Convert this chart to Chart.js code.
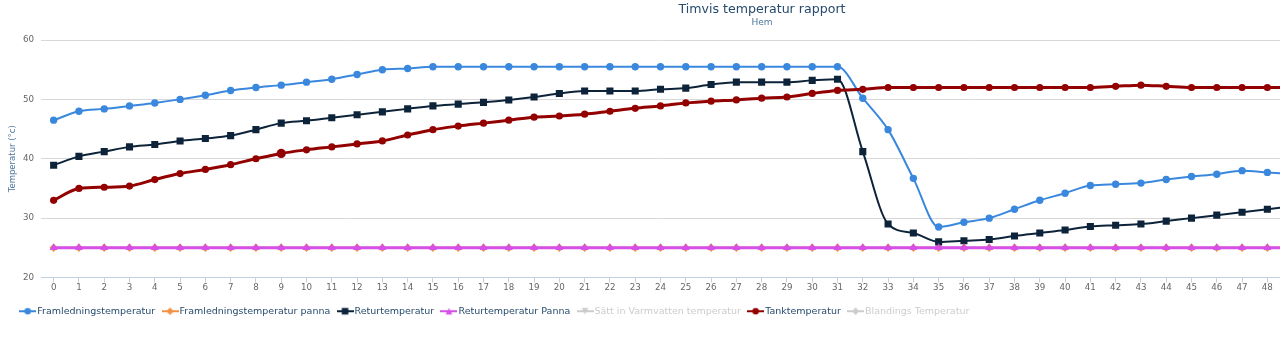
<!DOCTYPE html>
<html>
<head>
<meta charset="utf-8">
<script src="https://cdn.jsdelivr.net/npm/chart.js@4.4.1/dist/chart.umd.min.js"></script>
<style>
  html, body { margin: 0; padding: 0; background: #ffffff; }
  #wrap { position: relative; width: 1280px; height: 338px; }
</style>
</head>
<body>
<div id="wrap"><canvas id="c"></canvas></div>
<script>
// ---- data ----
const hours = [0,1,2,3,4,5,6,7,8,9,10,11,12,13,14,15,16,17,18,19,20,21,22,23,24,25,26,27,28,29,30,31,32,33,34,35,36,37,38,39,40,41,42,43,44,45,46,47,48,49];
const tickLabels = [0,1,2,3,4,5,6,7,8,9,10,11,12,13,14,15,16,17,18,19,20,21,22,23,24,25,26,27,28,29,30,31,32,33,34,35,36,37,38,39,40,41,42,43,44,45,46,47,48];
const yTicks = [20,30,40,50,60];

const seriesNames = ['Framledningstemperatur','Framledningstemperatur panna','Returtemperatur','Returtemperatur Panna','Sätt in Varmvatten temperatur','Tanktemperatur','Blandings Temperatur'];

const framledning = [46.5,48.0,48.4,48.9,49.4,50.0,50.7,51.5,52.0,52.4,52.9,53.4,54.2,55.0,55.2,55.5,
  55.5,55.5,55.5,55.5,55.5,55.5,55.5,55.5,55.5,55.5,55.5,55.5,55.5,55.5,55.5,55.5,
  50.2,44.9,36.7,28.5,29.3,30.0,31.5,33.0,34.2,35.5,35.7,35.9,36.5,37.0,37.4,38.0,37.7,37.4];
const framledningPanna = [25,25,25,25,25,25,25,25,25,25,25,25,25,25,25,25,25,25,25,25,25,25,25,25,25,25,25,25,25,25,25,25,25,25,25,25,25,25,25,25,25,25,25,25,25,25,25,25,25,25];
const retur = [38.9,40.4,41.2,42.0,42.4,43.0,43.4,43.9,44.9,46.0,46.4,46.9,47.4,47.9,48.4,48.9,
  49.2,49.5,49.9,50.4,51.0,51.4,51.4,51.4,51.7,51.9,52.5,52.9,52.9,52.9,53.2,53.4,
  41.2,29.0,27.5,26.0,26.2,26.4,27.0,27.5,28.0,28.6,28.8,29.0,29.5,30.0,30.5,31.0,31.5,32.0];
const returPanna = [25,25,25,25,25,25,25,25,25,25,25,25,25,25,25,25,25,25,25,25,25,25,25,25,25,25,25,25,25,25,25,25,25,25,25,25,25,25,25,25,25,25,25,25,25,25,25,25,25,25];
const varmvatten = [];
const tank = [33.0,35.0,35.2,35.4,36.5,37.5,38.2,39.0,40.0,40.9,41.5,42.0,42.5,43.0,44.0,44.9,
  45.5,46.0,46.5,47.0,47.2,47.5,48.0,48.5,48.9,49.4,49.7,49.9,50.2,50.4,51.0,51.5,
  51.7,52.0,52.0,52.0,52.0,52.0,52.0,52.0,52.0,52.0,52.2,52.4,52.2,52.0,52.0,52.0,52.0,52.0];
const blandning = [];

// ---- styles ----
const FONT = "'DejaVu Sans', sans-serif";
const styles = [
  { color: '#3a88de', marker: 'circle',   r: 3.7, lw: 2,   visible: true },
  { color: '#f28f43', marker: 'rectRot',  r: 4.2, lw: 2,   visible: true },
  { color: '#0d233a', marker: 'rect',     r: 5.0, lw: 2,   visible: true },
  { color: '#d54fe8', marker: 'triangle', r: 4.6, lw: 3,   visible: true },
  { color: '#cccccc', marker: 'triangle', r: 4.6, lw: 2,   visible: false, rot: 180 },
  { color: '#930000', marker: 'circle',   r: 3.6, lw: 3,   visible: true },
  { color: '#cccccc', marker: 'rectRot',  r: 4.2, lw: 2,   visible: false }
];
const seriesData = [framledning, framledningPanna, retur, returPanna, varmvatten, tank, blandning];

function legendIcon(st) {
  const c = document.createElement('canvas');
  c.width = 17; c.height = 10;
  const g = c.getContext('2d');
  const col = st.visible ? st.color : '#cccccc';
  g.strokeStyle = col; g.fillStyle = col;
  g.lineWidth = 2;
  g.beginPath(); g.moveTo(0, 5); g.lineTo(17, 5); g.stroke();
  const cx = 8.5, cy = 5, r = 3.3;
  g.beginPath();
  if (st.marker === 'circle') { g.arc(cx, cy, r, 0, Math.PI * 2); }
  else if (st.marker === 'rect') { g.rect(cx - r, cy - r, 2 * r, 2 * r); }
  else if (st.marker === 'rectRot') { g.moveTo(cx, cy - r - 0.5); g.lineTo(cx + r + 0.5, cy); g.lineTo(cx, cy + r + 0.5); g.lineTo(cx - r - 0.5, cy); g.closePath(); }
  else if (st.marker === 'triangle' && st.rot) { g.moveTo(cx - r, cy - r); g.lineTo(cx + r, cy - r); g.lineTo(cx, cy + r); g.closePath(); }
  else { g.moveTo(cx, cy - r); g.lineTo(cx + r, cy + r); g.lineTo(cx - r, cy + r); g.closePath(); }
  g.fill();
  return c;
}

const datasets = seriesNames.map((name, i) => {
  const st = styles[i];
  return {
    label: name,
    data: seriesData[i],
    borderColor: st.color,
    backgroundColor: st.color,
    borderWidth: st.lw,
    pointStyle: st.marker,
    pointRotation: st.rot || 0,
    pointRadius: (i === 5) ? (ctx => ctx.dataIndex === 9 ? 4.6 : st.r) : st.r,
    pointBackgroundColor: st.color,
    pointBorderWidth: 0,
    cubicInterpolationMode: 'monotone',
    fill: false,
    order: 10 - i
  };
});

const titlePlugin = {
  id: 'hcTitle',
  afterDraw(chart) {
    const ctx = chart.ctx;
    ctx.save();
    ctx.textAlign = 'center';
    ctx.textBaseline = 'middle';
    ctx.fillStyle = '#274b6d';
    ctx.font = "12.6px " + FONT;
    ctx.fillText('Timvis temperatur rapport', 762, 10);
    ctx.fillStyle = '#4d759e';
    ctx.font = "9px " + FONT;
    ctx.fillText('Hem', 762, 23);
    ctx.restore();
  }
};

new Chart(document.getElementById('c'), {
  type: 'line',
  data: { labels: hours, datasets },
  options: {
    responsive: true,
    maintainAspectRatio: false,
    animation: false,
    events: [],
    layout: { autoPadding: false, padding: { top: 40, left: 13, right: 0, bottom: 12 } },
    plugins: {
      title: { display: false },
      tooltip: { enabled: false },
      legend: {
        display: true,
        position: 'bottom',
        align: 'start',
        labels: {
          usePointStyle: true,
          boxWidth: 10,
          padding: 10,
          font: { family: FONT, size: 9.5 },
          color: '#274b6d',
          generateLabels: (chart) => chart.data.datasets.map((ds, i) => ({
            text: ds.label,
            fontColor: styles[i].visible ? '#274b6d' : '#cccccc',
            pointStyle: legendIcon(styles[i]),
            fillStyle: styles[i].color,
            strokeStyle: styles[i].color,
            lineWidth: 0,
            hidden: false,
            datasetIndex: i
          }))
        }
      }
    },
    scales: {
      x: {
        type: 'linear',
        min: -0.5,
        max: 48.5,
        afterBuildTicks: (s) => { s.ticks = tickLabels.map(v => ({ value: v })); },
        afterFit: (s) => { s.height = 19; s.paddingLeft = 0; s.paddingRight = 0; },
        grid: { drawOnChartArea: false, drawTicks: true, tickLength: 5, color: '#C0D0E0' },
        border: { display: true, color: '#C0D0E0', width: 1 },
        ticks: {
          autoSkip: false,
          maxRotation: 0,
          padding: 0,
          color: '#666666',
          font: { family: FONT, size: 8.7 },
          callback: (v) => String(v)
        }
      },
      y: {
        min: 20,
        max: 60,
        afterBuildTicks: (s) => { s.ticks = yTicks.map(v => ({ value: v })); },
        afterFit: (s) => { s.width = 28; s.paddingTop = 0; s.paddingBottom = 0; },
        grid: { color: '#d8d8d8', lineWidth: 1, drawTicks: false },
        border: { display: false },
        ticks: {
          padding: 7,
          color: '#666666',
          font: { family: FONT, size: 8.7 }
        },
        title: {
          display: true,
          text: 'Temperatur (°c)',
          color: '#4d759e',
          font: { family: FONT, size: 8.5 },
          padding: { top: -5.5, bottom: 0 }
        }
      }
    }
  },
  plugins: [titlePlugin]
});
</script>
</body>
</html>
